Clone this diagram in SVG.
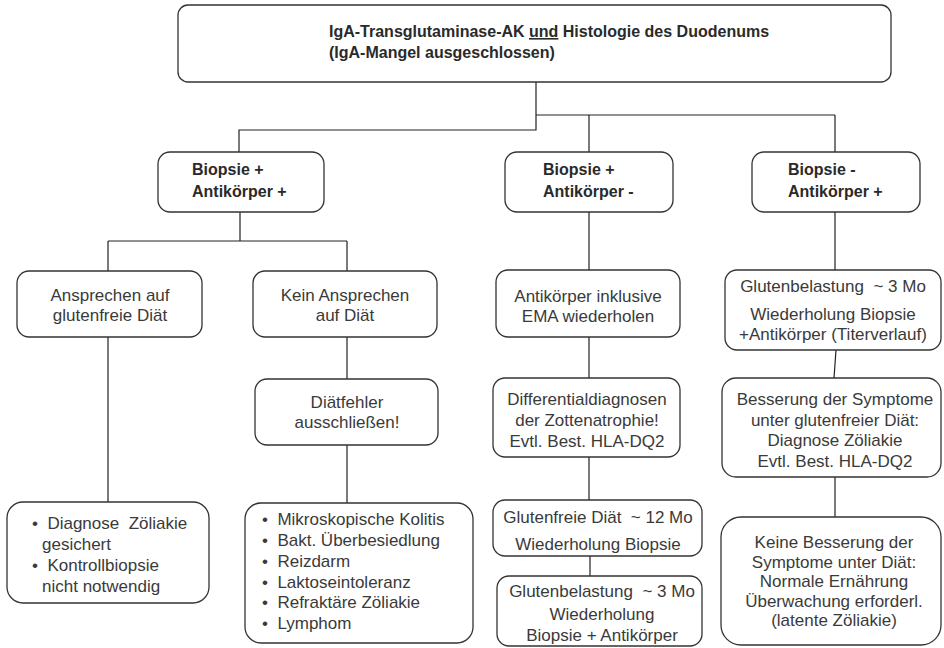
<svg xmlns="http://www.w3.org/2000/svg" width="944" height="648" viewBox="0 0 944 648">
<style>
.box{fill:#fff;stroke:#333;stroke-width:1.3}
.t{font-family:"Liberation Sans",Arial,sans-serif;font-size:17px;fill:#3a3a3a}
.c{text-anchor:middle}
.b{font-weight:bold;font-size:16px;fill:#2a2a2a}
.ln{stroke:#222;stroke-width:1.2;fill:none}
</style>
<rect width="944" height="648" fill="#fff"/>
<g id="connectors">
<path class="ln" d="M536 82V115" stroke-width="2"/>
<path class="ln" d="M536 115V130H239V152"/>
<path class="ln" d="M536 115H835M589 115V152M835 115V152"/>
<path class="ln" d="M240 212V241M108 241H347M108 241V271M347 241V271"/>
<path class="ln" d="M108 337V502M347 337V379M347 445V503"/>
<path class="ln" d="M589 212V270M589 337V378M589 457V500M590 556V576"/>
<path class="ln" d="M835 212V270M836 350L834 378M835 477V517"/>
</g>
<g id="n-top">
<rect class="box" x="178" y="5" width="713" height="77" rx="10"/>
<text class="t b" x="329" y="37">IgA-Transglutaminase-AK <tspan text-decoration="underline">und</tspan> Histologie des Duodenums</text>
<text class="t b" x="329" y="58">(IgA-Mangel ausgeschlossen)</text>
</g>
<g id="n-bpap">
<rect class="box" x="158" y="152" width="166" height="60" rx="12"/>
<text class="t b" x="192" y="175">Biopsie +</text>
<text class="t b" x="192" y="197">Antikörper +</text>
</g>
<g id="n-bpam">
<rect class="box" x="505" y="152" width="168" height="60" rx="12"/>
<text class="t b" x="543" y="175">Biopsie +</text>
<text class="t b" x="543" y="197">Antikörper -</text>
</g>
<g id="n-bmap">
<rect class="box" x="752" y="152" width="168" height="60" rx="12"/>
<text class="t b" x="788" y="175">Biopsie -</text>
<text class="t b" x="788" y="197">Antikörper +</text>
</g>
<g id="n-ansprechen">
<rect class="box" x="17" y="271" width="185" height="66" rx="12"/>
<text class="t c" x="110" y="301">Ansprechen auf</text>
<text class="t c" x="110" y="321">glutenfreie Diät</text>
</g>
<g id="n-kein">
<rect class="box" x="253" y="271" width="184" height="66" rx="12"/>
<text class="t c" x="345" y="301">Kein Ansprechen</text>
<text class="t c" x="345" y="321">auf Diät</text>
</g>
<g id="n-ema">
<rect class="box" x="496" y="270" width="184" height="67" rx="12"/>
<text class="t c" x="588" y="302">Antikörper inklusive</text>
<text class="t c" x="588" y="322">EMA wiederholen</text>
</g>
<g id="n-belast1">
<rect class="box" x="725" y="270" width="216" height="80" rx="12"/>
<text class="t c" x="833" y="292" xml:space="preserve">Glutenbelastung  ~ 3 Mo</text>
<text class="t c" x="833" y="320">Wiederholung Biopsie</text>
<text class="t c" x="833" y="340">+Antikörper (Titerverlauf)</text>
</g>
<g id="n-diaetfehler">
<rect class="box" x="255" y="379" width="183" height="66" rx="12"/>
<text class="t c" x="347" y="408">Diätfehler</text>
<text class="t c" x="347" y="428">ausschließen!</text>
</g>
<g id="n-differential">
<rect class="box" x="493" y="378" width="187" height="79" rx="12"/>
<text class="t c" x="587" y="405">Differentialdiagnosen</text>
<text class="t c" x="587" y="426">der Zottenatrophie!</text>
<text class="t c" x="587" y="447">Evtl. Best. HLA-DQ2</text>
</g>
<g id="n-besserung">
<rect class="box" x="722" y="378" width="219" height="99" rx="14"/>
<text class="t c" x="835" y="405">Besserung der Symptome</text>
<text class="t c" x="835" y="426">unter glutenfreier Diät:</text>
<text class="t c" x="835" y="446">Diagnose Zöliakie</text>
<text class="t c" x="835" y="467">Evtl. Best. HLA-DQ2</text>
</g>
<g id="n-gesichert">
<rect class="box" x="7" y="502" width="202" height="101" rx="16"/>
<text class="t" x="32" y="529" xml:space="preserve">•  Diagnose  Zöliakie</text>
<text class="t" x="42" y="550">gesichert</text>
<text class="t" x="32" y="571" xml:space="preserve">•  Kontrollbiopsie</text>
<text class="t" x="42" y="592">nicht notwendig</text>
</g>
<g id="n-liste">
<rect class="box" x="245" y="503" width="228" height="140" rx="16"/>
<text class="t" x="262" y="525" xml:space="preserve">•  Mikroskopische Kolitis</text>
<text class="t" x="262" y="546" xml:space="preserve">•  Bakt. Überbesiedlung</text>
<text class="t" x="262" y="567" xml:space="preserve">•  Reizdarm</text>
<text class="t" x="262" y="588" xml:space="preserve">•  Laktoseintoleranz</text>
<text class="t" x="262" y="608" xml:space="preserve">•  Refraktäre Zöliakie</text>
<text class="t" x="262" y="629" xml:space="preserve">•  Lymphom</text>
</g>
<g id="n-glutenfrei">
<rect class="box" x="493" y="500" width="209" height="56" rx="12"/>
<text class="t c" x="598" y="523" xml:space="preserve">Glutenfreie Diät  ~ 12 Mo</text>
<text class="t c" x="598" y="550">Wiederholung Biopsie</text>
</g>
<g id="n-belast2">
<rect class="box" x="497" y="576" width="205" height="70" rx="12"/>
<text class="t c" x="602" y="597" xml:space="preserve">Glutenbelastung  ~ 3 Mo</text>
<text class="t c" x="602" y="620">Wiederholung</text>
<text class="t c" x="602" y="641">Biopsie + Antikörper</text>
</g>
<g id="n-keine">
<rect class="box" x="721" y="517" width="220" height="128" rx="20"/>
<text class="t c" x="834" y="548">Keine Besserung der</text>
<text class="t c" x="834" y="568">Symptome unter Diät:</text>
<text class="t c" x="834" y="587">Normale Ernährung</text>
<text class="t c" x="834" y="607">Überwachung erforderl.</text>
<text class="t c" x="834" y="626">(latente Zöliakie)</text>
</g>
</svg>
